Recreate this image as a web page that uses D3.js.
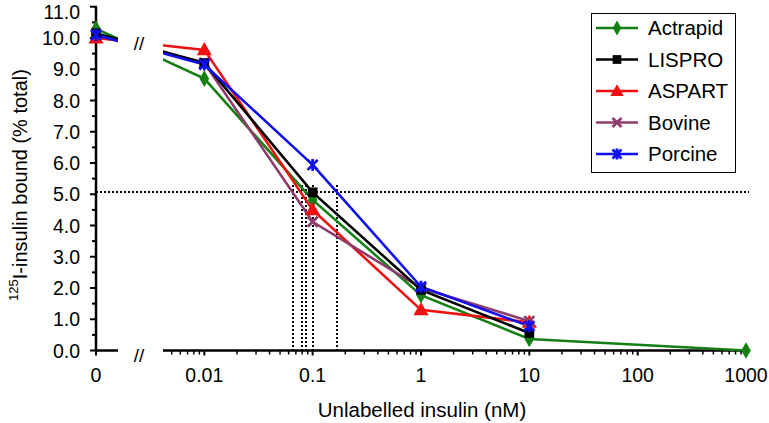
<!DOCTYPE html>
<html><head><meta charset="utf-8">
<script src="https://cdn.jsdelivr.net/npm/d3@7"></script>
<style>body{margin:0;background:#fff}svg{display:block}text{font-family:"Liberation Sans",Arial,sans-serif;fill:#000}</style>
</head><body><svg id="c" width="769" height="423"></svg>
<script>
// x = 0 is plotted at the 0.001 position (axis break)
const xValues = [0, 0.01, 0.1, 1, 10, 1000];
const seriesNames = ["Actrapid", "LISPRO", "ASPART", "Bovine", "Porcine"];
const actrapid = [10.3, 8.7, 4.82, 1.77, 0.37, 0.0];
const lispro   = [10.15, 9.2, 5.06, 1.94, 0.56, null];
const aspart   = [10.0, 9.62, 4.5, 1.3, 0.9, null];
const bovine   = [10.1, 9.2, 4.12, 2.0, 0.94, null];
const porcine  = [10.1, 9.15, 5.94, 2.04, 0.78, null];
const colors = ["#148014", "#000000", "#ee1111", "#8e3b6e", "#1010ee"];
const xTickLabels = ["0", "0.01", "0.1", "1", "10", "100", "1000"];
const xTickValues = [0.001, 0.01, 0.1, 1, 10, 100, 1000];
const yTicks = [0,1,2,3,4,5,6,7,8,9,10,11];
const halfLevel = 5.07;
const ic50 = [0.066, 0.08, 0.086, 0.1, 0.168];

const svg = d3.select("#c");
const x = d3.scaleLog().domain([0.001, 1000]).range([96, 746]);
const y = d3.scaleLinear().domain([0, 11]).range([350.5, 6.75]);
const px = v => x(v === 0 ? 0.001 : v);

const allSeries = [actrapid, lispro, aspart, bovine, porcine];

// clip for break gap
const defs = svg.append("defs");
const cp = defs.append("clipPath").attr("id","gap");
cp.append("rect").attr("x",0).attr("y",0).attr("width",118).attr("height",423);
cp.append("rect").attr("x",163).attr("y",0).attr("width",606).attr("height",423);

// dotted reference lines
svg.append("line").attr("x1",x(0.001)).attr("x2",749).attr("y1",Math.round(y(halfLevel))).attr("y2",Math.round(y(halfLevel)))
  .attr("stroke","#000").attr("stroke-width",2).attr("stroke-dasharray","2,2");
ic50.forEach(v=>{
  const xv = Math.round(x(v));
  svg.append("line").attr("x1",xv).attr("x2",xv).attr("y1",y(5.3)).attr("y2",y(0))
    .attr("stroke","#000").attr("stroke-width",2).attr("stroke-dasharray","2,2");
});

// y axis
const ya = svg.append("g");
ya.append("line").attr("x1",96).attr("x2",96).attr("y1",y(11)).attr("y2",y(0)+1).attr("stroke","#000").attr("stroke-width",2.5);
for (let v=0; v<=11.001; v+=0.5) {
  const major = Math.abs(v-Math.round(v))<1e-6;
  ya.append("line").attr("x1",96-(major?6:4)).attr("x2",97).attr("y1",y(v)).attr("y2",y(v)).attr("stroke","#000").attr("stroke-width",2);
}
yTicks.forEach(v=>{
  ya.append("text").attr("x",80).attr("y",Math.max(y(v), 12)).attr("dy","0.36em").attr("text-anchor","end")
    .attr("font-size",19.5).text(d3.format(".1f")(v));
});

// x axis
const xa = svg.append("g");
xa.append("line").attr("x1",95).attr("x2",118).attr("y1",y(0)).attr("y2",y(0)).attr("stroke","#000").attr("stroke-width",2.5);
xa.append("line").attr("x1",163).attr("x2",748).attr("y1",y(0)).attr("y2",y(0)).attr("stroke","#000").attr("stroke-width",2.5);
const minor = [];
[0.001,0.01,0.1,1,10,100].forEach(d=>{ for(let k=2;k<=9;k++){ const v=d*k; if (x(v)>165) minor.push(v);} });
minor.forEach(v=>{
  xa.append("line").attr("x1",x(v)).attr("x2",x(v)).attr("y1",y(0)).attr("y2",y(0)+4).attr("stroke","#000").attr("stroke-width",1.5);
});
xTickValues.forEach((v,i)=>{
  xa.append("line").attr("x1",x(v)).attr("x2",x(v)).attr("y1",y(0)).attr("y2",y(0)+5).attr("stroke","#000").attr("stroke-width",2);
  xa.append("text").attr("x",x(v)).attr("y",382).attr("text-anchor","middle").attr("font-size",19.5).text(xTickLabels[i]);
});
// break marks
svg.append("text").attr("x",139).attr("y",362).attr("text-anchor","middle").attr("font-size",19).text("//");
svg.append("text").attr("x",139).attr("y",50).attr("text-anchor","middle").attr("font-size",19).text("//");

// axis titles
svg.append("text").attr("x",422).attr("y",417).attr("text-anchor","middle").attr("font-size",20.5).text("Unlabelled insulin (nM)");
const yt = svg.append("text").attr("transform","translate(26,185) rotate(-90)").attr("text-anchor","middle").attr("font-size",20);
yt.append("tspan").attr("font-size",13).attr("dy","-0.6em").text("125");
yt.append("tspan").attr("dy","0.45em").text("I-insulin bound (% total)");

// markers
function marker(g, i, cx, cy, s) {
  const c = colors[i];
  if (i===0) g.append("path").attr("d", d3.symbol(d3.symbolDiamond, 80*s)()).attr("transform",`translate(${cx},${cy})`).attr("fill",c);
  else if (i===1) g.append("path").attr("d", d3.symbol(d3.symbolSquare, 95*s)()).attr("transform",`translate(${cx},${cy})`).attr("fill",c);
  else if (i===2) g.append("path").attr("d", d3.symbol(d3.symbolTriangle, 100*s)()).attr("transform",`translate(${cx},${cy+1})`).attr("fill",c);
  else {
    const r = 5*Math.sqrt(s);
    const p = `M${cx-r},${cy-r}L${cx+r},${cy+r}M${cx-r},${cy+r}L${cx+r},${cy-r}` + (i===4 ? `M${cx},${cy-r-1}L${cx},${cy+r+1}` : "");
    g.append("path").attr("d",p).attr("stroke",c).attr("stroke-width",2.8).attr("fill","none");
  }
}

const line = d3.line().defined(d=>d[1]!==null).x(d=>px(d[0])).y(d=>y(d[1]));
const order = [0,2,3,1,4];
order.forEach(i=>{
  const pts = xValues.map((v,j)=>[v, allSeries[i][j]]);
  svg.append("path").datum(pts).attr("d",line).attr("fill","none").attr("stroke",colors[i])
    .attr("stroke-width",2.6).attr("clip-path","url(#gap)");
});
order.forEach(i=>{
  const g = svg.append("g");
  xValues.forEach((v,j)=>{ const val=allSeries[i][j]; if(val!==null) marker(g,i,px(v),y(val),1); });
});

// legend
const lg = svg.append("g");
lg.append("rect").attr("x",591.5).attr("y",13.5).attr("width",144).attr("height",159).attr("fill","#fff").attr("stroke","#000").attr("stroke-width",1);
seriesNames.forEach((n,i)=>{
  const ly = 28 + i*31.5;
  lg.append("line").attr("x1",596).attr("x2",638).attr("y1",ly).attr("y2",ly).attr("stroke",colors[i]).attr("stroke-width",2.6);
  marker(lg,i,617,ly,0.8);
  lg.append("text").attr("x",648).attr("y",ly).attr("dy","0.36em").attr("font-size",20.5).text(n);
});
</script></body></html>
